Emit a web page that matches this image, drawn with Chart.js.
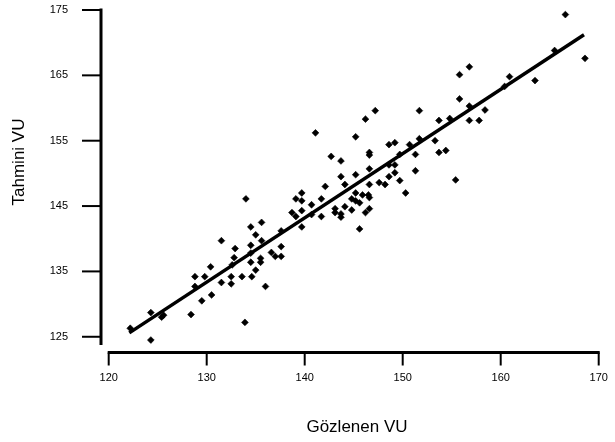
<!DOCTYPE html>
<html>
<head>
<meta charset="utf-8">
<script src="https://cdn.jsdelivr.net/npm/chart.js@4.4.0/dist/chart.umd.min.js"></script>
<style>
html,body{margin:0;padding:0;background:#fff}
#wrap{width:615px;height:442px}
</style>
</head>
<body>
<div id="wrap"><canvas id="chart" width="615" height="442"></canvas></div>
<script>
// observed (x) and predicted (y) values
const observedVU = [
  122.2, 124.3, 124.3, 125.4, 125.6, 128.4, 129.5, 130.5, 128.8, 131.5,
  132.5, 132.5, 128.8, 129.8, 130.4, 132.6, 131.5, 133.9, 133.6, 134.6,
  135.0, 132.9, 132.8, 134.5, 134.5, 134.5, 135.0, 134.5, 135.6, 135.6,
  135.5, 135.5, 136.0, 134.0, 136.6, 137.0, 137.6, 137.6, 137.6, 139.7,
  138.7, 139.1, 139.7, 140.7, 141.7, 140.7, 139.1, 139.7, 141.7, 139.7,
  142.1, 143.1, 143.1, 143.7, 143.7, 144.1, 144.8, 145.2, 145.6, 144.8,
  145.2, 145.9, 146.5, 146.6, 146.2, 146.6, 145.6, 143.7, 143.7, 145.2,
  146.6, 146.6, 147.6, 148.2, 148.6, 149.2, 149.2, 148.6, 149.7, 150.3,
  151.3, 155.4, 144.1, 142.7, 145.2, 146.2, 147.2, 141.1, 146.6, 146.6,
  148.6, 149.2, 150.7, 149.7, 151.3, 151.7, 153.3, 151.7, 153.7, 154.8,
  153.7, 154.4, 156.8, 157.8, 155.8, 156.8, 155.8, 156.8, 158.4, 160.9,
  160.4, 163.5, 165.5, 166.6, 168.6
]
const predictedVU = [
  126.3, 128.7, 124.5, 128.0, 128.3, 128.4, 130.5, 131.4, 132.7, 133.3,
  133.1, 134.2, 134.2, 134.2, 135.7, 136.0, 139.7, 127.2, 134.2, 134.2,
  135.2, 138.5, 137.1, 139.0, 137.8, 136.4, 140.6, 141.8, 142.5, 139.7,
  137.0, 136.4, 132.7, 146.1, 137.9, 137.3, 137.3, 138.8, 141.2, 141.8,
  144.0, 143.4, 144.3, 143.7, 143.4, 145.2, 146.1, 145.8, 146.1, 147.0,
  148.0, 144.6, 144.0, 143.8, 143.3, 144.9, 146.1, 145.8, 145.5, 144.4,
  147.0, 146.7, 146.7, 146.3, 144.0, 144.6, 141.5, 151.9, 149.5, 149.8,
  150.7, 148.3, 148.6, 148.3, 149.5, 150.1, 151.3, 151.3, 148.9, 147.0,
  150.4, 149.0, 148.3, 152.6, 155.6, 158.3, 159.6, 156.2, 153.2, 152.8,
  154.4, 154.7, 154.4, 152.9, 152.9, 155.3, 155.0, 159.6, 158.1, 158.4,
  153.2, 153.5, 158.1, 158.1, 165.1, 166.3, 161.4, 160.3, 159.7, 164.8,
  163.3, 164.2, 168.8, 174.3, 167.6
]
// fitted line end points
const fitX = [122.1, 168.5]
const fitY = [125.6, 171.2]

const xTicks = [120, 130, 140, 150, 160, 170]
const yTicks = [125, 135, 145, 155, 165, 175]

const font = '"Liberation Sans", Arial, sans-serif'

// R style axes: detached lines with outward ticks, plus axis titles
const rAxes = {
  id: 'rAxes',
  afterDraw(c) {
    const ctx = c.ctx
    const xs = c.scales.x, ys = c.scales.y
    const axX = xs.getPixelForValue(120) - 7.7
    const axY = ys.bottom + 7.5
    ctx.save()
    ctx.strokeStyle = '#000'
    ctx.lineCap = 'butt'

    ctx.lineWidth = 3
    ctx.beginPath()
    ctx.moveTo(axX, ys.getPixelForValue(175) - 1.5)
    ctx.lineTo(axX, ys.bottom)
    ctx.stroke()
    ctx.lineWidth = 2
    yTicks.forEach(v => {
      const p = ys.getPixelForValue(v)
      ctx.beginPath()
      ctx.moveTo(axX - 19, p)
      ctx.lineTo(axX, p)
      ctx.stroke()
    })

    ctx.lineWidth = 3
    ctx.beginPath()
    ctx.moveTo(xs.getPixelForValue(120) - 1, axY)
    ctx.lineTo(xs.getPixelForValue(170) + 1, axY)
    ctx.stroke()
    ctx.lineWidth = 2
    xTicks.forEach(v => {
      const p = xs.getPixelForValue(v)
      ctx.beginPath()
      ctx.moveTo(p, axY)
      ctx.lineTo(p, axY + 13)
      ctx.stroke()
    })

    ctx.fillStyle = '#000'
    ctx.font = '17px ' + font
    ctx.textAlign = 'center'
    ctx.textBaseline = 'middle'
    ctx.fillText('Gözlenen VU', 357, 427)
    ctx.translate(19, 162)
    ctx.rotate(-Math.PI / 2)
    ctx.fillText('Tahmini VU', 0, 0)
    ctx.restore()
  }
}

new Chart(document.getElementById('chart'), {
  type: 'scatter',
  data: {
    datasets: [
      {
        type: 'line',
        data: fitX.map((v, i) => ({x: v, y: fitY[i]})),
        borderColor: '#000',
        borderWidth: 3.5,
        pointRadius: 0,
        fill: false
      },
      {
        data: observedVU.map((v, i) => ({x: v, y: predictedVU[i]})),
        pointStyle: 'rectRot',
        pointRadius: 3.4,
        backgroundColor: '#000',
        borderColor: '#000',
        borderWidth: 0.6,
        clip: false
      }
    ]
  },
  options: {
    responsive: false,
    animation: false,
    layout: {padding: {left: 0, top: 10, right: 16.3, bottom: 0}},
    plugins: {legend: {display: false}, tooltip: {enabled: false}},
    scales: {
      x: {
        type: 'linear',
        min: 120, max: 170,
        grid: {display: false, drawTicks: true, tickLength: 26},
        border: {display: false},
        afterBuildTicks: s => { s.ticks = xTicks.map(v => ({value: v})) },
        afterFit: s => { s.height = 97 },
        ticks: {color: '#000', padding: 0, maxRotation: 0, font: {family: font, size: 11}}
      },
      y: {
        type: 'linear',
        min: 123.74, max: 175,
        grid: {display: false, drawTicks: true, tickLength: 40},
        border: {display: false},
        afterBuildTicks: s => { s.ticks = yTicks.map(v => ({value: v})) },
        afterFit: s => { s.width = 108.7 },
        ticks: {color: '#000', padding: 0.7, font: {family: font, size: 11}}
      }
    }
  },
  plugins: [rAxes]
})
</script>
</body>
</html>
